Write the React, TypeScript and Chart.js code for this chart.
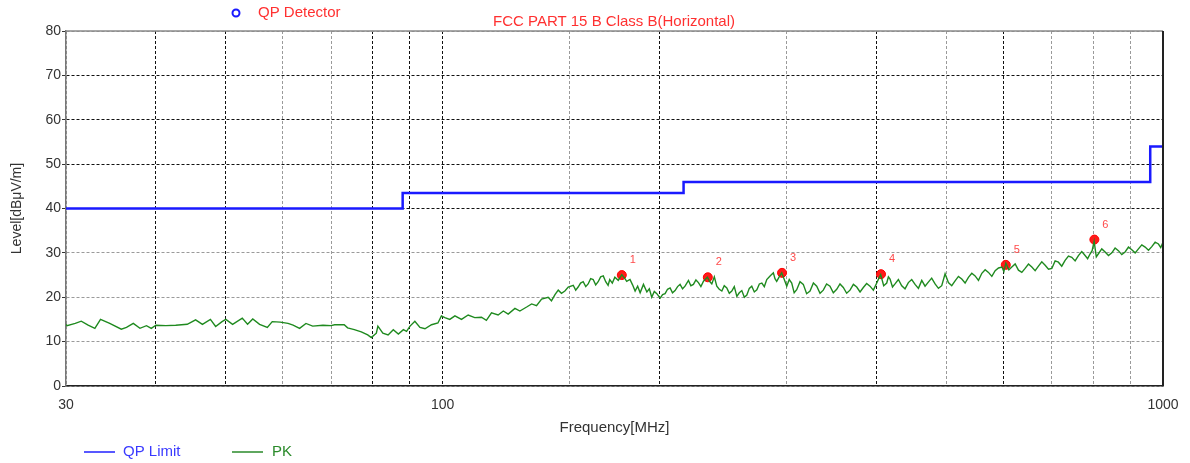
import { useEffect, useRef } from 'react';
import { Chart, registerables } from 'chart.js';

Chart.register(...registerables);

const FONT = "'Liberation Sans', Arial, sans-serif";

// QP limit line (stepped)
const LIMIT_FREQ = [30, 88, 88, 216, 216, 960, 960, 1000];
const LIMIT_LEVEL = [40, 40, 43.5, 43.5, 46, 46, 54, 54];

// PK trace
const PK_FREQ = [
  30, 30.1, 30.9, 31.5, 32.2, 32.9, 33.5, 34.5, 35.8, 36.4, 37.2, 38.0, 38.8, 39.4, 40.0,
  41.3, 42.6, 44.2, 45.4, 46.4, 47.6, 48.4, 49.4, 50.0, 51.1, 52.7, 53.6, 54.5, 55.7, 57.1,
  58.0, 59.5, 61.0, 62.0, 63.3, 64.6, 66.0, 68.2, 70.0, 70.8, 73.0, 73.8, 75.4, 77.1, 78.7,
  79.6, 80.9, 81.3, 82.6, 84.0, 85.4, 86.8, 88.2, 89.1, 90.1, 91.5, 93.0, 94.5, 96.5, 98.5,
  99.6, 100.7, 102.3, 104.0, 106.2, 108.5, 110.8, 113.2, 115.0, 116.9, 119.4, 121.4, 123.3, 126.0, 128.0,
  130.8, 132.9, 135.0, 137.2,
  140.1, 141.6, 143.2, 144.7, 146.2, 147.8, 149.4, 151.8, 153.0, 154.2, 155.4, 156.7, 158.0, 159.2, 160.5,
  161.8, 163.1, 164.4, 165.7, 167.1, 168.4, 169.7, 170.6, 172.0, 173.4, 175.3, 177.3, 178.7, 180.1, 182.0,
  183.5, 185.0, 186.5, 188.0, 190.0, 192.1, 193.6, 195.1, 196.7, 198.3, 200.4, 202.0, 203.6, 205.2, 206.9,
  208.5, 210.2, 211.9, 213.6, 215.3, 217.0, 219.4, 221.1, 222.9, 224.7, 226.5, 228.3, 230.2, 233.1, 234.7,
  236.4, 238.3, 240.2, 242.1, 244.1, 246.0, 248.0, 250.0, 252.0, 254.0, 256.1, 258.1, 260.2, 262.3, 264.4,
  266.5, 268.6, 270.8, 273.0, 275.2, 277.4, 279.6, 281.8, 284.8, 287.8, 289.3, 290.9, 293.2, 295.6, 298.0,
  300.4, 302.8, 305.2, 307.6, 310.1, 313.4, 316.7, 320.1, 323.6, 327.1, 330.6, 334.1, 337.6, 341.2, 344.9,
  348.6, 352.4, 356.1, 359.9, 363.8, 367.7, 371.7, 375.7, 379.7, 383.7, 387.8, 392.0, 396.2, 400.5, 403.0,
  405.6, 409.5, 413.5, 415.7, 417.9, 421.2, 424.6, 429.2, 433.8, 438.4, 443.1, 447.9, 452.7, 457.6, 462.5,
  467.4, 472.3, 477.4, 482.6, 487.8, 493.0, 498.3, 503.6, 509.0, 514.5, 520.0, 525.6, 531.2, 536.9, 542.7,
  548.5, 554.4, 560.4, 566.4, 572.4, 578.6, 584.8, 591.1, 597.5, 601.3, 605.1, 611.0, 616.8, 623.4, 630.0,
  636.8, 643.6, 650.5, 657.5, 664.5, 671.6, 678.8, 686.1, 693.5, 700.9, 708.3, 715.8, 723.5, 731.3, 739.2,
  747.1, 755.1, 763.1, 771.3, 779.6, 785.9, 792.3, 797.3, 802.4, 808.0, 813.5, 822.3, 831.1, 840.1, 849.1,
  858.1, 867.1, 876.5, 885.9, 895.5, 905.1, 914.8, 924.5, 934.5, 944.5, 954.7, 964.9, 975.2, 985.6, 992.8,
  1000,
];
const PK_LEVEL = [
  13.9, 13.6, 14.1, 14.6, 13.7, 13.0, 15.0, 14.1, 12.8, 13.2, 14.1, 13.0, 13.6, 13.0, 13.7,
  13.6, 13.7, 13.9, 14.9, 13.9, 15.0, 13.4, 14.5, 15.0, 13.9, 15.3, 13.9, 15.1, 13.9, 13.2,
  14.5, 14.4, 14.1, 13.7, 13.0, 14.1, 13.5, 13.7, 13.6, 13.8, 13.8, 13.1, 12.7, 12.2, 11.5,
  10.9, 11.9, 13.5, 11.9, 11.5, 12.7, 11.7, 12.7, 12.3, 13.5, 14.6, 13.2, 12.9, 13.8, 14.2,
  15.8, 15.4, 15.0, 15.8, 15.0, 16.0, 15.4, 15.5, 14.8, 16.5, 16.0, 16.9, 16.2, 17.5, 16.9,
  17.8, 18.5, 18.1, 19.6,
  20.0, 19.2, 20.6, 21.6, 20.9, 21.4, 22.3, 22.7, 21.6, 22.3, 23.2, 23.5, 22.4, 23.0, 24.2,
  24.0, 22.8, 23.5, 24.6, 24.8, 23.5, 22.7, 24.0, 23.2, 24.5, 23.8, 25.1, 24.4, 23.6, 24.0,
  22.8, 21.4, 22.5, 21.0, 22.9, 21.2, 21.9, 20.0, 21.3, 20.8, 19.8, 20.6, 20.8, 21.8, 22.1,
  21.0, 21.5, 22.4, 22.9, 21.9, 22.5, 23.8, 22.6, 22.9, 23.9, 23.3, 22.4, 23.6, 24.5, 23.6,
  23.0, 24.6, 22.5, 21.8, 21.4, 22.6, 22.1, 20.9, 21.4, 22.4, 20.2, 21.0, 21.5, 20.0, 20.5,
  22.0, 22.5, 21.2, 21.7, 23.0, 23.2, 22.4, 24.0, 24.8, 25.5, 24.2, 23.6, 24.6, 25.5, 24.0,
  22.5, 24.0, 23.2, 21.0, 21.7, 23.5, 22.9, 20.8, 21.4, 23.2, 22.5, 20.9, 21.6, 23.0, 22.5,
  21.0, 21.8, 23.0, 22.2, 20.9, 21.6, 22.9, 22.3, 21.2, 22.2, 23.1, 22.5, 21.6, 23.2, 24.2,
  25.1, 22.6, 23.2, 24.6, 24.1, 22.3, 23.0, 24.0, 22.6, 21.9, 23.3, 24.0, 22.9, 22.0, 23.8,
  22.5, 23.4, 24.3, 23.0, 22.0, 22.6, 25.3, 23.3, 22.6, 23.7, 24.7, 24.1, 23.2, 24.5, 25.4,
  24.8, 23.8, 25.4, 26.2, 25.6, 24.7, 26.0, 26.6, 26.8, 25.8, 27.7, 26.2, 26.8, 27.5, 26.1,
  25.6, 26.5, 27.5, 26.8, 26.0, 27.0, 28.0, 27.2, 26.3, 26.5, 28.2, 27.9, 27.0, 28.3, 29.3,
  29.0, 28.2, 29.4, 30.3, 29.4, 28.7, 29.8, 30.5, 32.6, 29.1, 29.8, 30.9, 30.2, 29.4, 30.0,
  31.1, 30.5, 29.6, 30.2, 31.3, 30.7, 30.0, 30.9, 31.8, 31.3, 30.6, 31.4, 32.4, 32.0, 31.2,
  32.4,
];

// QP detector markers
const MARK_FREQ = [177.3, 233.4, 295.9, 406, 605, 803];
const MARK_LEVEL = [25.0, 24.5, 25.5, 25.2, 27.3, 33.0];
const MARK_LABELS = ['1', '2', '3', '4', '5', '6'];

// axis tick labels
const X_TICK_LABELS = [30, 100, 1000];
const Y_MIN = 0;
const Y_MAX = 80;
const Y_STEP = 10;

const DARK_X = [40, 50, 80, 90, 100, 200, 400, 600];
const DARK_Y = [40, 50, 60, 70];

export default function App() {
  const ref = useRef<HTMLCanvasElement | null>(null);

  useEffect(() => {
    const canvas = ref.current;
    if (!canvas) return;

    const overlay = {
      id: 'overlay',
      afterDraw(chart: any) {
        const { ctx, chartArea } = chart;
        ctx.save();
        // top and right frame
        ctx.strokeStyle = '#8a8a8a';
        ctx.lineWidth = 1.5;
        ctx.beginPath();
        ctx.moveTo(chartArea.left, chartArea.top);
        ctx.lineTo(chartArea.right, chartArea.top);
        ctx.stroke();
        ctx.strokeStyle = '#222';
        ctx.lineWidth = 2;
        ctx.beginPath();
        ctx.moveTo(chartArea.right, chartArea.top);
        ctx.lineTo(chartArea.right, chartArea.bottom);
        ctx.stroke();

        // marker labels
        const meta = chart.getDatasetMeta(2);
        ctx.fillStyle = '#ff4a4a';
        ctx.font = `11px ${FONT}`;
        ctx.textAlign = 'left';
        ctx.textBaseline = 'middle';
        meta.data.forEach((pt: any, i: number) => {
          ctx.fillText(MARK_LABELS[i], pt.x + 8, pt.y - 15);
        });

        // top legend
        ctx.strokeStyle = '#1a1aff';
        ctx.lineWidth = 2;
        ctx.beginPath();
        ctx.arc(236, 13, 3.5, 0, Math.PI * 2);
        ctx.stroke();
        ctx.fillStyle = '#ff3030';
        ctx.font = `15px ${FONT}`;
        ctx.fillText('QP Detector', 258, 13);

        // title
        ctx.textAlign = 'center';
        ctx.fillText('FCC PART 15 B Class B(Horizontal)', 614, 22);

        // bottom legend
        ctx.textAlign = 'left';
        ctx.lineWidth = 1.5;
        ctx.strokeStyle = '#2020ff';
        ctx.beginPath();
        ctx.moveTo(84, 452);
        ctx.lineTo(115, 452);
        ctx.stroke();
        ctx.fillStyle = '#3a3aff';
        ctx.fillText('QP Limit', 123, 452);
        ctx.strokeStyle = '#2a8a2a';
        ctx.beginPath();
        ctx.moveTo(232, 452);
        ctx.lineTo(263, 452);
        ctx.stroke();
        ctx.fillStyle = '#2a8a2a';
        ctx.fillText('PK', 272, 452);
        ctx.restore();
      },
    };

    const markerData = MARK_FREQ.map((x, i) => ({ x, y: MARK_LEVEL[i] }));

    const chart = new Chart(canvas, {
      type: 'line',
      data: {
        datasets: [
          {
            label: 'QP Limit',
            data: LIMIT_FREQ.map((x, i) => ({ x, y: LIMIT_LEVEL[i] })),
            borderColor: '#1a1aff',
            borderWidth: 2.5,
            pointRadius: 0,
            tension: 0,
          },
          {
            label: 'PK',
            data: PK_FREQ.map((x, i) => ({ x, y: PK_LEVEL[i] })),
            borderColor: '#1f8a1f',
            borderWidth: 1.4,
            pointRadius: 0,
            tension: 0,
          },
          {
            label: 'QP Detector',
            data: markerData,
            showLine: false,
            pointStyle: 'circle',
            pointRadius: 4.5,
            backgroundColor: '#ff1a1a',
            borderColor: '#ff0000',
            borderWidth: 1,
          },
          {
            label: 'QP Detector cross',
            data: markerData,
            showLine: false,
            pointStyle: 'crossRot',
            pointRadius: 2.5,
            borderColor: '#ffffff',
            borderWidth: 1,
          },
        ],
      } as any,
      options: {
        animation: false,
        responsive: false,
        devicePixelRatio: 1,
        layout: { padding: { left: 0, right: 27, top: 31, bottom: 0 } },
        plugins: { legend: { display: false }, tooltip: { enabled: false } },
        scales: {
          x: {
            type: 'logarithmic',
            min: 30,
            max: 1000,
            afterFit: (s: any) => {
              s.height = 77;
            },
            border: { color: '#222', width: 1.5, dash: [3, 2] },
            grid: {
              color: (c: any) => (DARK_X.includes(c.tick?.value) ? '#111' : '#9a9a9a'),
              lineWidth: 1,
              drawTicks: false,
            },
            ticks: {
              autoSkip: false,
              maxRotation: 0,
              callback: (v: any) => (X_TICK_LABELS.includes(Number(v)) ? String(v) : ''),
              font: { family: FONT, size: 14 },
              color: '#333',
              padding: 11,
            },
            title: {
              display: true,
              text: 'Frequency[MHz]',
              font: { family: FONT, size: 15 },
              color: '#333',
              padding: { top: 0, bottom: 26 },
            },
          },
          y: {
            min: Y_MIN,
            max: Y_MAX,
            afterFit: (s: any) => {
              s.width = 66;
            },
            border: { color: '#777', width: 1.5, dash: [3, 2] },
            grid: {
              color: (c: any) => (DARK_Y.includes(c.tick?.value) ? '#111' : '#9a9a9a'),
              lineWidth: 1,
              drawTicks: true,
              tickLength: 4,
              tickColor: '#333',
              tickBorderDash: [],
            },
            ticks: {
              stepSize: Y_STEP,
              font: { family: FONT, size: 14 },
              color: '#333',
              padding: 1,
            },
            title: {
              display: true,
              text: 'Level[dBμV/m]',
              font: { family: FONT, size: 14 },
              color: '#333',
              padding: { top: 9, bottom: 0 },
            },
          },
        },
      } as any,
      plugins: [overlay],
    });

    return () => chart.destroy();
  }, []);

  return (
    <div style={{ position: 'absolute', left: 0, top: 0, width: 1190, height: 463, background: '#fff' }}>
      <canvas ref={ref} width={1190} height={463} />
    </div>
  );
}
